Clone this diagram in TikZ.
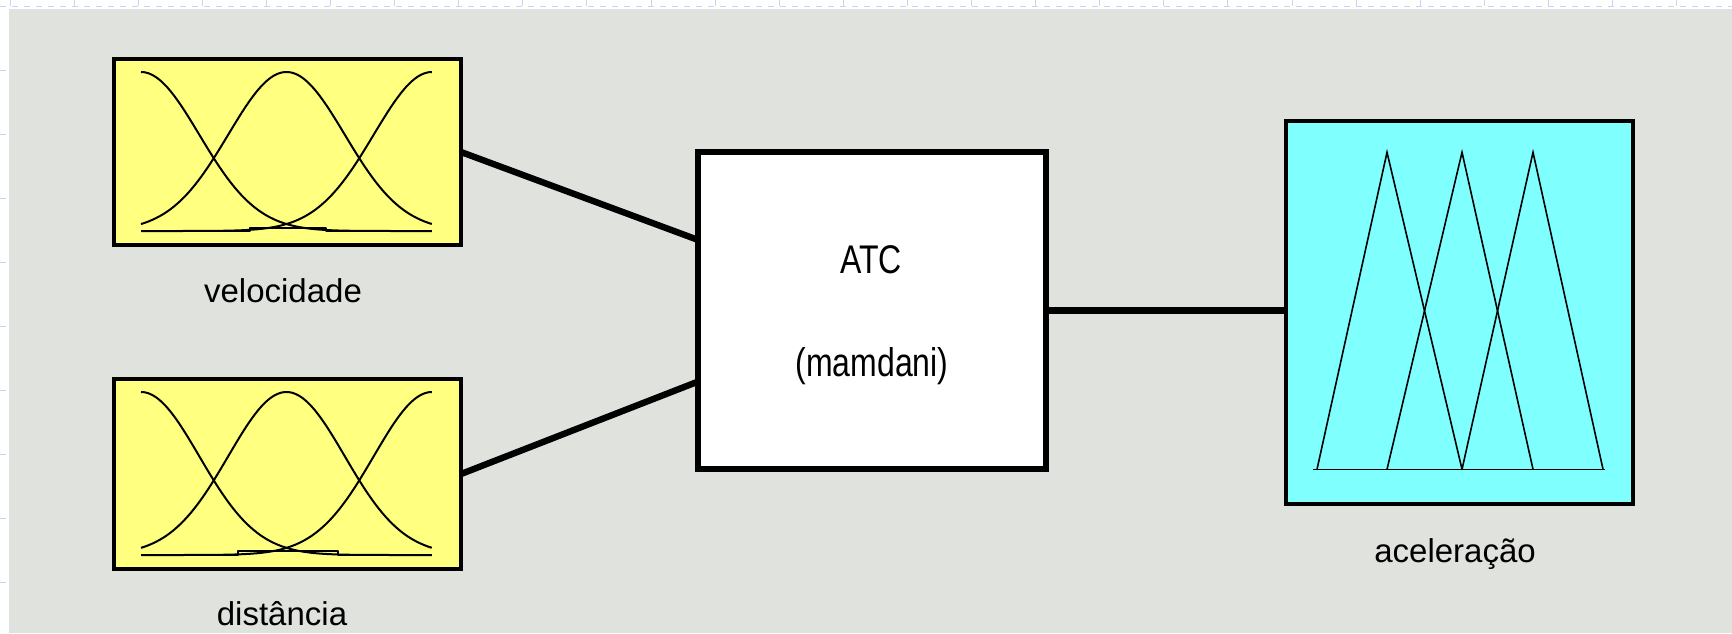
\documentclass[tikz,border=0pt]{standalone}
\usepackage{fontspec}
\setmainfont{Liberation Sans}
\newfontfamily\narrowsans[FakeStretch=0.8]{Liberation Sans}
\usetikzlibrary{calc}
\definecolor{bggray}{RGB}{224,226,222}
\definecolor{mfyellow}{RGB}{255,255,128}
\definecolor{mfcyan}{RGB}{128,255,255}
\definecolor{gridblue}{RGB}{200,212,250}
\begin{document}
\begin{tikzpicture}[x=0.5pt,y=-0.5pt,
  box/.style={draw=black, line width=2pt, inner sep=0pt, outer sep=0pt, rectangle},
  link/.style={line width=3.2pt},
  mf/.style={line width=1pt, line join=round},
  tri/.style={line width=0.8pt, line join=miter},
  lbl/.style={font=\fontsize{16.5pt}{18pt}\selectfont, anchor=base, inner sep=0pt},
  sys/.style={font=\narrowsans\fontsize{20pt}{22pt}\selectfont, anchor=base, inner sep=0pt},
  gridline/.style={gridblue, dashed, line width=0.5pt}]

\useasboundingbox (0,0) rectangle (1732,633);
\fill[white] (0,0) rectangle (1732,633);
% faint background grid visible in the margins
\draw[gridline] (0,6) -- (1732,6);
\foreach \i in {0,...,26} { \draw[gridline] ({10+64.1*\i},0) -- ({10+64.1*\i},9); }
\foreach \j in {1,...,9} { \draw[gridline] (0,{6+64.1*\j}) -- (9,{6+64.1*\j}); }
\fill[bggray] (9,9) rectangle (1732,633);

% boxes
\node[box, fill=mfyellow, minimum width=173.5pt, minimum height=93pt] (vel) at (287.5,152) {};
\node[box, fill=mfyellow, minimum width=173.5pt, minimum height=95pt] (dist) at (287.5,474) {};
\node[box, fill=white, line width=3.2pt, minimum width=173.75pt, minimum height=158.25pt] (atc) at (872,310.5) {};
\node[box, fill=mfcyan, line width=2pt, minimum width=173.5pt, minimum height=191.5pt] (acel) at (1459.5,312.5) {};

% labels
\node[lbl] (velname) at (283,302) {velocidade};
\node[lbl] (distname) at (282,625) {distância};
\node[lbl] (acelname) at (1455,562) {aceleração};
\node[sys] (atcname) at (871,273) {ATC};
\node[sys] (atctype) at (872,376) {(mamdani)};

% connectors
\coordinate (in1) at ($(atc.west)+(0,-70.5)$);
\coordinate (in2) at ($(atc.west)+(0,71)$);
\draw[link] (vel.east) -- (in1);
\draw[link] (dist.east) -- (in2);
\draw[link] (atc.east) -- (atc.east -| acel.west);

% velocidade membership functions
\draw[mf] plot[domain=0:1, samples=80, smooth] ({141+291*\x},{231-159*exp(-(\x*\x)/0.08)});
\draw[mf] plot[domain=0:1, samples=80, smooth] ({141+291*\x},{231-159*exp(-((\x-0.5)*(\x-0.5))/0.08)});
\draw[mf] plot[domain=0:1, samples=80, smooth] ({141+291*\x},{231-159*exp(-((\x-1)*(\x-1))/0.08)});
\draw[mf] (141,231) -- (250,231) -- (250,227.5) -- (326,227.5) -- (326,231) -- (432,231);

% distancia membership functions
\draw[mf] plot[domain=0:1, samples=80, smooth] ({141+291*\x},{555-163*exp(-(\x*\x)/0.08)});
\draw[mf] plot[domain=0:1, samples=80, smooth] ({141+291*\x},{555-163*exp(-((\x-0.5)*(\x-0.5))/0.08)});
\draw[mf] plot[domain=0:1, samples=80, smooth] ({141+291*\x},{555-163*exp(-((\x-1)*(\x-1))/0.08)});
\draw[mf] (141,555) -- (238,555) -- (238,551) -- (338,551) -- (338,555) -- (432,555);

% aceleracao triangles
\draw[tri] (1313,469.3) -- (1605,469.3);
\draw[tri] (1317,469.3) -- (1387,152.3) -- (1462,469.3);
\draw[tri] (1387,469.3) -- (1462,152.3) -- (1533,469.3);
\draw[tri] (1462,469.3) -- (1533,152.3) -- (1603,469.3);
\end{tikzpicture}
\end{document}
